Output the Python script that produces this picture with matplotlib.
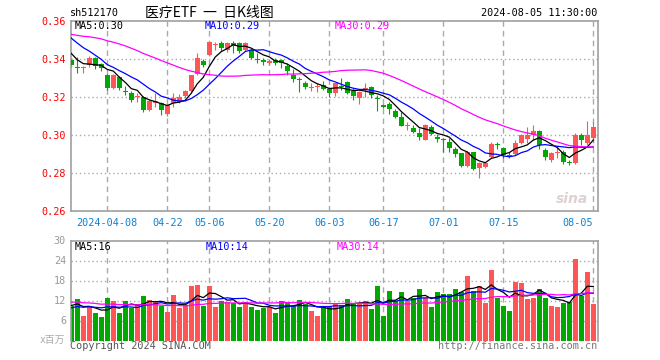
import numpy as np
import pandas as pd
import matplotlib
matplotlib.use("Agg")
import matplotlib.pyplot as plt

plt.rcParams["font.family"] = ["DejaVu Sans Mono", "Noto Sans CJK SC"]

# ---------------- data ----------------
holidays = ["2024-04-04", "2024-04-05", "2024-05-01", "2024-05-02", "2024-05-03", "2024-06-10"]
dates = [d for d in pd.bdate_range("2024-03-27", "2024-08-05").strftime("%Y-%m-%d")
         if d not in holidays]

opens = [0.3395, 0.3358, 0.3354, 0.3368, 0.3407, 0.3372, 0.3316, 0.3246, 0.3304, 0.3231,
         0.3221, 0.3198, 0.3198, 0.3133, 0.3167, 0.3167, 0.3109, 0.3167, 0.3175, 0.3204,
         0.3230, 0.3320, 0.3388, 0.3423, 0.3474, 0.3482, 0.3447, 0.3482, 0.3486, 0.3447,
         0.3447, 0.3398, 0.3395, 0.3380, 0.3395, 0.3395, 0.3365, 0.3316, 0.3295, 0.3274,
         0.3248, 0.3251, 0.3263, 0.3240, 0.3219, 0.3258, 0.3277, 0.3233, 0.3193, 0.3244,
         0.3251, 0.3196, 0.3154, 0.3163, 0.3128, 0.3093, 0.3045, 0.3035, 0.3012, 0.2974,
         0.3044, 0.2991, 0.2979, 0.2965, 0.2925, 0.2904, 0.2839, 0.2909, 0.2825, 0.2833,
         0.2882, 0.2953, 0.2930, 0.2895, 0.2900, 0.2960, 0.2978, 0.2998, 0.3020, 0.2921,
         0.2868, 0.2907, 0.2912, 0.2860, 0.2851, 0.3000, 0.2956, 0.2982]
closes = [0.3366, 0.3354, 0.3358, 0.3407, 0.3363, 0.3351, 0.3246, 0.3316, 0.3246, 0.3226,
          0.3186, 0.3202, 0.3132, 0.3179, 0.3179, 0.3131, 0.3156, 0.3196, 0.3202, 0.3230,
          0.3315, 0.3404, 0.3367, 0.3489, 0.3478, 0.3456, 0.3486, 0.3470, 0.3440, 0.3486,
          0.3404, 0.3393, 0.3385, 0.3388, 0.3378, 0.3377, 0.3337, 0.3295, 0.3291, 0.3254,
          0.3252, 0.3256, 0.3240, 0.3219, 0.3272, 0.3253, 0.3219, 0.3207, 0.3228, 0.3248,
          0.3212, 0.3191, 0.3150, 0.3135, 0.3093, 0.3049, 0.3049, 0.3014, 0.2991, 0.3055,
          0.3004, 0.2977, 0.2975, 0.2933, 0.2898, 0.2839, 0.2909, 0.2821, 0.2851, 0.2851,
          0.2953, 0.2949, 0.2893, 0.2891, 0.2956, 0.2998, 0.3002, 0.3020, 0.2950, 0.2882,
          0.2904, 0.2911, 0.2860, 0.2851, 0.3000, 0.2974, 0.3000, 0.3044]
highs = [0.3407, 0.3409, 0.3365, 0.3415, 0.3412, 0.3380, 0.3320, 0.3320, 0.3310, 0.3260,
         0.3230, 0.3219, 0.3205, 0.3190, 0.3219, 0.3175, 0.3165, 0.3219, 0.3215, 0.3235,
         0.3318, 0.3430, 0.3400, 0.3492, 0.3492, 0.3495, 0.3492, 0.3495, 0.3492, 0.3490,
         0.3452, 0.3430, 0.3405, 0.3398, 0.3405, 0.3400, 0.3377, 0.3346, 0.3307, 0.3286,
         0.3272, 0.3272, 0.3284, 0.3254, 0.3275, 0.3302, 0.3285, 0.3246, 0.3232, 0.3272,
         0.3256, 0.3210, 0.3163, 0.3172, 0.3135, 0.3119, 0.3070, 0.3053, 0.3035, 0.3060,
         0.3051, 0.3004, 0.2986, 0.2982, 0.2939, 0.2906, 0.2916, 0.2912, 0.2860, 0.2856,
         0.2965, 0.2965, 0.2939, 0.2912, 0.2975, 0.3004, 0.3040, 0.3055, 0.3025, 0.2930,
         0.2912, 0.2938, 0.2920, 0.2868, 0.3012, 0.3010, 0.3074, 0.3068]
lows = [0.3356, 0.3328, 0.3325, 0.3360, 0.3350, 0.3335, 0.3235, 0.3240, 0.3238, 0.3210,
        0.3175, 0.3175, 0.3120, 0.3125, 0.3149, 0.3105, 0.3100, 0.3149, 0.3170, 0.3195,
        0.3225, 0.3318, 0.3360, 0.3415, 0.3447, 0.3440, 0.3438, 0.3430, 0.3430, 0.3440,
        0.3398, 0.3380, 0.3370, 0.3370, 0.3370, 0.3351, 0.3316, 0.3281, 0.3228, 0.3240,
        0.3233, 0.3228, 0.3235, 0.3202, 0.3205, 0.3237, 0.3215, 0.3184, 0.3161, 0.3202,
        0.3193, 0.3128, 0.3142, 0.3111, 0.3088, 0.3045, 0.3025, 0.3009, 0.2974, 0.2972,
        0.3000, 0.2965, 0.2912, 0.2912, 0.2886, 0.2833, 0.2833, 0.2818, 0.2775, 0.2828,
        0.2877, 0.2925, 0.2881, 0.2881, 0.2895, 0.2952, 0.2956, 0.2974, 0.2925, 0.2870,
        0.2860, 0.2880, 0.2850, 0.2840, 0.2848, 0.2947, 0.2950, 0.2965]
# volume, millions
volumes = [10.5, 12.5, 7.5, 10.2, 8.2, 7.2, 12.8, 12.0, 8.2, 12.0,
           9.8, 11.0, 13.5, 12.3, 11.5, 10.5, 8.7, 13.8, 9.7, 10.8,
           16.5, 16.8, 10.5, 16.5, 10.2, 11.8, 11.5, 11.2, 10.2, 11.5,
           10.0, 9.3, 9.7, 10.2, 8.2, 12.0, 11.2, 10.5, 12.3, 11.0,
           9.0, 7.5, 10.0, 10.0, 11.0, 10.8, 12.5, 11.0, 11.0, 12.0,
           9.5, 16.5, 7.5, 15.0, 11.8, 14.7, 12.0, 12.7, 15.5, 12.7,
           10.0, 14.7, 14.0, 14.0, 15.5, 14.5, 19.5, 14.8, 16.5, 11.3,
           21.3, 12.7, 10.5, 9.0, 17.7, 17.3, 12.5, 12.8, 15.5, 12.7,
           10.5, 10.2, 11.3, 11.5, 24.5, 13.5, 20.5, 11.0]

# sessions before the visible window (only feed the moving averages)
prev_closes = [0.352, 0.350, 0.349, 0.351, 0.353, 0.355, 0.354, 0.352, 0.353, 0.356,
               0.358, 0.357, 0.355, 0.354, 0.352, 0.353, 0.355, 0.357, 0.356, 0.358,
               0.361, 0.360, 0.359, 0.358, 0.357, 0.352, 0.346, 0.342, 0.338]
prev_volumes = [12.0, 13.5, 11.8, 12.6, 14.0, 11.2, 12.9, 13.1, 11.5, 12.2,
                10.8, 13.0, 12.4, 11.9, 12.7, 13.3, 11.6, 12.5, 12.1, 11.9,
                8.8, 9.5, 8.6, 9.9, 8.7, 10.2, 11.4, 9.8, 10.6]

tick_dates = ["2024-04-08", "2024-04-22", "2024-05-06", "2024-05-20", "2024-06-03",
              "2024-06-17", "2024-07-01", "2024-07-15", "2024-08-05"]
price_ticks = [0.26, 0.28, 0.30, 0.32, 0.34, 0.36]
vol_ticks = [6, 12, 18, 24, 30]
ma_periods = [5, 10, 30]
ma_colors = ["#000000", "#0000ff", "#ff00ff"]

RED = "#ff5555"
GREEN = "#00a800"
GRID = "#aaaaaa"
FRAME = "#a0a0a0"


def moving_avg(prev, cur, n):
    full = np.array(prev + cur, dtype=float)
    ma = np.convolve(full, np.ones(n) / n, mode="valid")
    return ma[-len(cur):]


o = np.array(opens)
c = np.array(closes)
h = np.array(highs)
l = np.array(lows)
v = np.array(volumes)
x = np.arange(len(c))
up = c >= o
colors = np.where(up, RED, GREEN)

W, H = 660, 360


def box(left, top, right, bottom):
    return [left / W, 1 - bottom / H, (right - left) / W, (bottom - top) / H]


fig = plt.figure(figsize=(W / 100, H / 100), dpi=100)
ax = fig.add_axes(box(70.5, 21, 597.7, 211))
axv = fig.add_axes(box(70.5, 240.5, 597.7, 340.5))

tick_idx = [dates.index(d) for d in tick_dates]
tick_labels = [tick_dates[0]] + [d[5:] for d in tick_dates[1:]]

# ---- price panel ----
for yv in price_ticks[1:-1]:
    ax.axhline(yv, color=GRID, lw=1, ls=(0, (1, 2)), zorder=0)
for xi in tick_idx:
    ax.axvline(xi, color=GRID, lw=1, ls=(0, (4, 3)), zorder=0)

ax.vlines(x, l, h, colors=colors, lw=0.8, zorder=2)
body = np.maximum(np.abs(c - o), 0.0006)
ax.bar(x, body, bottom=np.minimum(o, c), width=0.8, color=colors, lw=0, zorder=3)

price_ma = [moving_avg(prev_closes, closes, n) for n in ma_periods]
for ma, col in zip(price_ma, ma_colors):
    ax.plot(x, ma, color=col, lw=0.9, zorder=4)

ax.set_xlim(-0.13, 87.73)
ax.set_ylim(0.26, 0.36)
ax.set_yticks(price_ticks, [f"{t:.2f}" for t in price_ticks])
ax.set_xticks(tick_idx, tick_labels)
ax.tick_params(axis="y", length=0, pad=3.2, labelsize=7.3, labelcolor="#ff0000")
ax.tick_params(axis="x", length=0, pad=5, labelsize=7.3, labelcolor="#1080d0")
ax.get_xticklabels()[-1].set_horizontalalignment("right")
for s in ax.spines.values():
    s.set_color(FRAME)
    s.set_linewidth(1.2)

# faint sina watermark
ax.text(83.5, 0.2665, "sina", fontsize=10, style="italic", weight="bold",
        color="#ddd2d2", ha="center", va="center", family="DejaVu Sans", zorder=1)

lbl_x = [75, 204.3, 334.7]
for n, ma, col, lx in zip(ma_periods, price_ma, ma_colors, lbl_x):
    fig.text(lx / W, 1 - 26 / H, f"MA{n}:{ma[-1]:.2f}", color=col, fontsize=7.3,
             va="center", ha="left")

# ---- volume panel ----
for yv in vol_ticks[:-1]:
    axv.axhline(yv, color=GRID, lw=1, ls=(0, (1, 2)), zorder=0)
for xi in tick_idx:
    axv.axvline(xi, color=GRID, lw=1, ls=(0, (4, 3)), zorder=0)

axv.bar(x, v, width=0.85, color=colors, lw=0, zorder=2)
vol_ma = [moving_avg(prev_volumes, volumes, n) for n in ma_periods]
for ma, col in zip(vol_ma, ma_colors):
    axv.plot(x, ma, color=col, lw=0.9, zorder=4)

axv.set_xlim(-0.13, 87.73)
axv.set_ylim(0, 30)
axv.set_yticks(vol_ticks, [str(t) for t in vol_ticks])
axv.set_xticks([])
axv.tick_params(axis="y", length=0, pad=3.2, labelsize=7.3, labelcolor="#999999")
for name, s in axv.spines.items():
    s.set_color(FRAME)
    s.set_linewidth(1.2)
axv.spines["bottom"].set_visible(False)

vlbl_x = [75, 205.6, 336.5]
for n, ma, col, lx in zip(ma_periods, vol_ma, ma_colors, vlbl_x):
    fig.text(lx / W, 1 - 246.7 / H, f"MA{n}:{ma[-1]:.0f}", color=col, fontsize=7.3,
             va="center", ha="left")

# ---- header / footer text ----
fig.text(70 / W, 1 - 13 / H, "sh512170", fontsize=7.3, color="#000000", va="center", ha="left")
fig.text(209 / W, 1 - 13 / H, "医疗ETF  一  日K线图", fontsize=10, color="#000000",
         va="center", ha="center", family=["Noto Sans CJK SC"])
fig.text(597 / W, 1 - 13 / H, "2024-08-05 11:30:00", fontsize=7.3, color="#000000",
         va="center", ha="right")
fig.text(65 / W, 1 - 340 / H, "x百万", fontsize=7, color="#aaaaaa", va="center", ha="right",
         family=["DejaVu Sans Mono", "Noto Sans CJK SC"])
fig.text(70 / W, 1 - 346 / H, "Copyright 2024 SINA.COM", fontsize=7.3, color="#555555",
         va="center", ha="left")
fig.text(597 / W, 1 - 346 / H, "http://finance.sina.com.cn", fontsize=7.3, color="#777777",
         va="center", ha="right")

fig.savefig("out.png", dpi=100, facecolor="white")
